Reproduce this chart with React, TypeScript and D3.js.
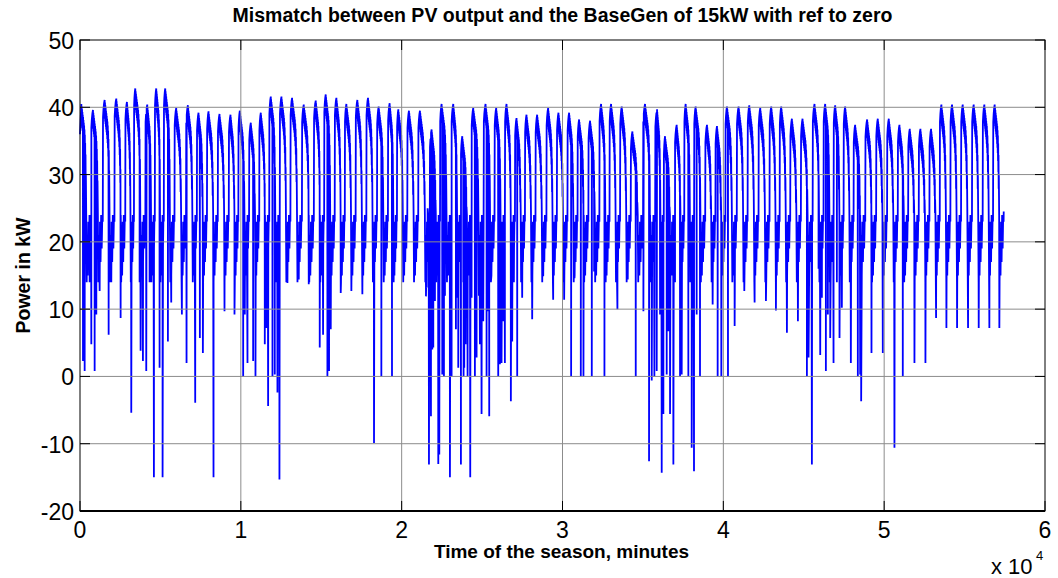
import React from "react";
import * as d3 from "d3";

// ---- data (minutes, kW) ----
const peakMinute = [
  83, 807, 1532, 2257, 2919, 3437, 4182, 4741, 5300, 5983, 6708, 7370, 7992, 8675, 9358,
  9938, 10621, 11242, 11863, 12526, 13188, 13913, 14658, 15279, 15942, 16563, 17246, 17909, 18571, 19254,
  19793, 20455, 21138, 21863, 22484, 23209, 23768, 24451, 25217, 25879, 26521, 27142, 27763, 28426, 29109,
  29751, 30413, 31034, 31718, 32401, 33022, 33684, 34347, 35133, 35879, 36376, 37100, 37659, 38280,
  38985, 39606, 40227, 40951, 41614, 42297, 42980, 43601, 44264, 44926, 45671, 46334, 46955, 47576, 48197,
  48943, 49605, 50289, 50951, 51593, 52255, 52918, 53559, 54222, 54885, 55568, 56230, 56872,
];
const peakKW = [
  40.5, 39.6, 41.1, 41.3, 40.8, 42.8, 40.4, 42.8, 42.8, 39.9, 40.3, 39.2, 39.4, 39.0, 38.9,
  39.5, 37.7, 39.2, 41.6, 41.6, 41.4, 40.4, 41.0, 41.9, 41.4, 40.5, 41.1, 41.4, 40.1, 40.6,
  39.7, 39.5, 39.5, 36.7, 40.5, 40.5, 35.7, 39.9, 40.5, 39.9, 40.5, 38.4, 38.9, 38.9, 39.9,
  39.2, 39.2, 38.2, 38.0, 40.5, 40.5, 40.1, 36.4, 40.5, 39.7, 35.7, 37.4, 40.5, 40.1,
  37.4, 37.2, 40.1, 40.1, 40.3, 39.9, 40.1, 40.1, 38.3, 38.3, 40.5, 40.5, 40.3, 40.1, 37.4,
  38.2, 38.3, 38.3, 37.4, 36.8, 36.8, 36.8, 40.4, 40.4, 40.4, 40.4, 40.4, 40.4,
];
const dipMinute = [
  186, 290, 455, 600, 704, 911, 1014, 1222, 1781, 1946, 2526, 3188, 3706, 3768, 3913, 4120, 4327, 4596, 4948, 5135, 5466, 5673, 6335, 6625, 7164, 7453, 7640, 8302, 8985, 9606,
  10145, 10248, 10414, 10766, 10911, 11490, 11594, 11697, 11967, 12111, 12277, 12401, 12898, 13602, 14223, 14906, 15113, 15383, 15486, 15590, 16211, 16873, 17556, 18281, 18737, 19399,
  20165, 20828, 21511, 21552, 21614, 21697, 21821, 21904, 21966, 22069, 22277, 22339, 22525, 22629, 22691, 22794, 23001, 23105, 23374, 23415, 23519, 23684, 23830, 23850, 23892, 23974, 24099, 24181, 24264, 24347, 24554, 24658, 24802, 24865, 24968, 25072, 25279, 25341, 25444, 25548, 26004, 26107, 26210, 26314, 26418, 26790, 26873, 26977, 27184, 27494, 28115, 28798,
  29420, 30103, 30537, 30744, 31138, 31303, 31821, 31966, 32608, 33415, 34057, 34554, 35030, 35382, 35444, 35548, 35713, 35858, 36065, 36169, 36272, 36479, 36583, 36687, 36893, 36997, 37308, 37411, 37825, 38032, 38177, 38342, 38550,
  39336, 39647, 39875, 40289, 40703, 41303, 41945, 42649, 43270, 43953, 44637, 45196, 45299, 45506, 45920, 46024, 46127, 46376, 46500, 46645, 46852, 47059, 47224, 47369, 47929, 47990, 48363, 48508, 48570,
  49212, 49916, 50640, 51158, 51883, 52566, 53228, 53870, 54533, 55216, 55879, 56541, 57162,
];
const dipKW = [
  2.3, 0.8, 18, 14, 4.8, 0.8, 9.2, 12.7, 6.2, 14, 8.7, -5.4, 14, 3.8, 2.3, 0.8, 14, -15, 1.3, -15, 5.2, 11, 9.2, 2, -3.9, 5.7, 3.5, -15, 9.7, 9.2,
  0, 9.2, 2, 2.3, 0, 4.8, 7.2, -4.4, 0, 0.3, -2.4, -15.3, 13.9, 14.4, 13.7, 4.3, 6.2, 0, 0.8, 7, 12.4, 12.7, 12.2, -9.9, 0, 0,
  17.4, 16.4, 11.9, 13.2, 25, -13.1, -5.9, 4, 4.3, 11.2, -13, -11.6, 0.3, 0, 12, 20, -15, 0, 7, 11.7, 1.3, -13.1, 14, 0, 1.3, 4.8, 0, 16, -15, 11.7, 0, 2.8, 12, 4.8, -5.6, 8.2, 0, 9.7, -5.9, 14, 0, 1.8, 2, 8.2, 2, -3.7, 5.2, 14, 0, 11.7, 8.5, 14.9,
  11.4, 11.4, 0, 14.6, 0, 0, 0, 15.6, 0, 10, 14.4, 0, 9.7, -12.6, 14, -0.6, 0, 0.8, 9.2, -14.3, -5.6, 0.3, 6.7, -5.6, -13.1, 14, 0, 0.3, 0, -10.6, -14.1, 9.2, 0,
  10.7, 0, 0, 0, 7.5, 12.7, 11, 11.2, 9.8, 6.5, 8.2, 0, 2.8, -13.1, 16, 3.2, 11.7, 0.8, 9.2, 5.7, 2, 14, 5.7, 10.2, 2, 19, 0, 0.3, -3.7,
  3.5, 3.5, -10.6, 0, 2, 2, 8.7, 7.2, 7.2, 7.2, 7.2, 7.2, 7.2,
];
// daily profile read from the clear days (fraction of the day after the peak, kW below the peak)
const bandFrac = [
  0, 0.015, 0.03, 0.045, 0.06, 0.075, 0.09, 0.105, 0.12, 0.135, 0.15, 0.165, 0.18, 0.195, 0.21, 0.225, 0.24,
  0.255, 0.27, 0.285, 0.3, 0.315, 0.33, 0.345, 0.36, 0.375, 0.39,
];
const bandDropKW = [
  0, 2.8, 0.4, 3.2, 0.8, 3.6, 1.2, 4.0, 1.6, 4.4, 2.0, 4.8, 2.4, 5.2, 2.8, 5.8, 3.2, 6.4, 3.8, 7.2, 4.6, 8.4,
  5.8, 10.0, 7.5, 12.5, 10.5,
];
const lowFrac = [0.42, 0.46, 0.5, 0.55, 0.6, 0.65, 0.7, 0.75, 0.8, 0.84];
const lowKW = [24, 14, 21, 15, 23, 17, 24, 19, 24, 23];
const riseFrac = [0.86, 0.9, 0.95];
const riseBelowPeakKW = [2.6, 1.4, 0.5];
const startKW = 36;
const endMinute = 57433;
const endKW = 24.5;
const dayLength = 660;

const xTicks = [0, 1, 2, 3, 4, 5, 6];
const yTicks = [-20, -10, 0, 10, 20, 30, 40, 50];

const W = 1058, H = 578;
const L = 80, R = 1045, T = 40, B = 511;

function buildSeries(): [number, number][] {
  const pts: [number, number][] = [[0, startKW]];
  const n = peakMinute.length;
  for (let k = 0; k < n; k++) {
    const tp = peakMinute[k];
    const P = peakKW[k];
    const last = k === n - 1;
    const D = last ? dayLength : peakMinute[k + 1] - tp;
    bandFrac.forEach((f, j) => pts.push([tp + f * D, P - bandDropKW[j]]));
    lowFrac.forEach((f, j) => pts.push([tp + f * D, lowKW[j]]));
    if (!last) {
      const Pn = peakKW[k + 1];
      riseFrac.forEach((f, j) => pts.push([tp + f * D, Pn - riseBelowPeakKW[j]]));
    }
  }
  dipMinute.forEach((t, i) => pts.push([t, dipKW[i]]));
  const out = pts.filter((p) => p[0] <= endMinute).sort((a, b) => a[0] - b[0]);
  out.push([endMinute, endKW]);
  return out;
}

export default function App() {
  const x = d3.scaleLinear().domain([0, 60000]).range([L, R]);
  const y = d3.scaleLinear().domain([-20, 50]).range([B, T]);
  const data = buildSeries();
  const line = d3
    .line<[number, number]>()
    .x((d) => x(d[0]))
    .y((d) => y(d[1]));
  const font = "'Liberation Sans', Arial, Helvetica, sans-serif";
  const gridColor = "#8c8c8c";
  return (
    <svg
      width={W}
      height={H}
      viewBox={`0 0 ${W} ${H}`}
      style={{ position: "absolute", left: 0, top: 0, background: "#fff" }}
      fontFamily={font}
    >
      <rect x={0} y={0} width={W} height={H} fill="#fff" />
      <path d={line(data) || ""} fill="none" stroke="#0000ff" strokeWidth={1.8} strokeLinejoin="miter" />
      {/* grid */}
      {xTicks.slice(1, -1).map((t) => (
        <line key={"gx" + t} x1={x(t * 1e4)} x2={x(t * 1e4)} y1={T} y2={B} stroke={gridColor} strokeWidth={1} />
      ))}
      {yTicks.slice(1, -1).map((t) => (
        <line key={"gy" + t} x1={L} x2={R} y1={y(t)} y2={y(t)} stroke={gridColor} strokeWidth={1} />
      ))}
      {/* ticks */}
      {xTicks.map((t) => (
        <g key={"tx" + t}>
          <line x1={x(t * 1e4)} x2={x(t * 1e4)} y1={B} y2={B - 10} stroke="#000" />
          <line x1={x(t * 1e4)} x2={x(t * 1e4)} y1={T} y2={T + 10} stroke="#000" />
          <text x={x(t * 1e4)} y={538} textAnchor="middle" fontSize={23} fill="#000">
            {t}
          </text>
        </g>
      ))}
      {yTicks.map((t) => (
        <g key={"ty" + t}>
          <line x1={L} x2={L + 10} y1={y(t)} y2={y(t)} stroke="#000" />
          <line x1={R} x2={R - 10} y1={y(t)} y2={y(t)} stroke="#000" />
          <text x={74} y={y(t) + 9} textAnchor="end" fontSize={23} fill="#000">
            {t}
          </text>
        </g>
      ))}
      {/* axes box */}
      <rect x={L} y={T} width={R - L} height={B - T} fill="none" stroke="#000" strokeWidth={1} />
      <line x1={L} x2={R} y1={B} y2={B} stroke="#000" strokeWidth={2} />
      {/* exponent */}
      <text x={991} y={574} fontSize={22} fill="#000">x 10</text>
      <text x={1036} y={560} fontSize={13} fill="#000">4</text>
      {/* labels */}
      <text x={562.5} y={22} textAnchor="middle" fontSize={19.5} fontWeight="bold" fill="#000">
        Mismatch between PV output and the BaseGen of 15kW with ref to zero
      </text>
      <text x={561.5} y={558} textAnchor="middle" fontSize={19} fontWeight="bold" fill="#000">
        Time of the season, minutes
      </text>
      <text transform={`translate(30, ${(T + B) / 2}) rotate(-90)`} textAnchor="middle" fontSize={19.5} fontWeight="bold" fill="#000">
        Power in kW
      </text>
    </svg>
  );
}
